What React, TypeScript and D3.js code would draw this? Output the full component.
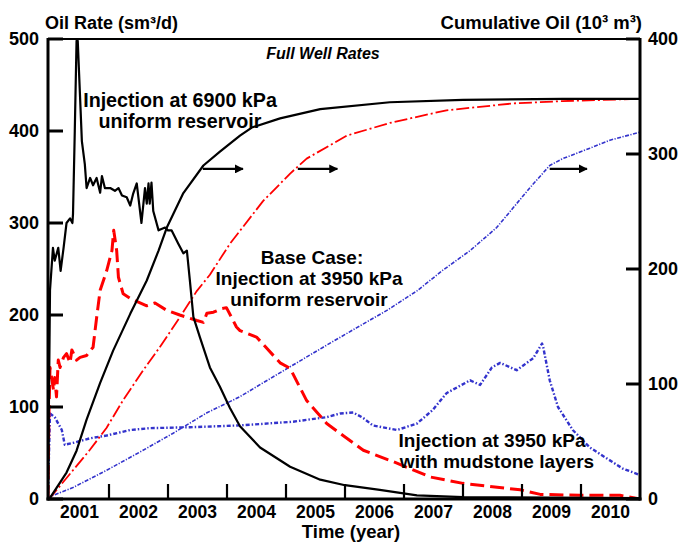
import React from "react";
import * as d3 from "d3";

// ---- data (time in decimal years) ----
const rate6900: [number, number][] = [
  [2000.966, 0], [2001.0, 227], [2001.05, 273], [2001.08, 259], [2001.14, 273], [2001.18, 248],
  [2001.23, 273], [2001.28, 300], [2001.34, 305], [2001.38, 300], [2001.39, 310], [2001.42, 400],
  [2001.45, 498], [2001.47, 498], [2001.51, 436], [2001.54, 389], [2001.59, 364], [2001.62, 338],
  [2001.68, 349], [2001.73, 341], [2001.79, 349], [2001.85, 333], [2001.88, 351], [2001.93, 338],
  [2002.02, 338], [2002.1, 335], [2002.16, 338], [2002.22, 330], [2002.3, 328], [2002.36, 319],
  [2002.41, 332], [2002.47, 343], [2002.55, 300], [2002.61, 338], [2002.64, 321], [2002.67, 343],
  [2002.69, 321], [2002.72, 344], [2002.75, 313], [2002.84, 292], [2002.95, 295], [2003.0, 292],
  [2003.06, 292], [2003.17, 278], [2003.26, 267], [2003.32, 270], [2003.37, 238], [2003.43, 198],
  [2003.54, 176], [2003.71, 143], [2003.88, 122], [2004.05, 99], [2004.22, 79], [2004.56, 56],
  [2005.07, 35], [2005.58, 21], [2006.0, 15], [2006.59, 10], [2007.22, 4], [2008.0, 2], [2011.0, 1],
];
const cum6900: [number, number][] = [
  [2000.966, 0], [2001.0, 1], [2001.28, 23], [2001.45, 42], [2001.62, 69], [2001.85, 101],
  [2002.07, 129], [2002.36, 161], [2002.64, 190], [2002.84, 216], [2002.98, 236], [2003.26, 266],
  [2003.6, 290], [2003.88, 302], [2004.22, 316], [2004.42, 323], [2004.9, 331], [2005.58, 339],
  [2006.76, 345], [2008.0, 347], [2009.69, 348], [2011.0, 348],
];
const rateBase: [number, number][] = [
  [2000.966, 0], [2000.98, 86], [2001.0, 143], [2001.06, 118], [2001.08, 132], [2001.11, 111],
  [2001.14, 151], [2001.17, 143], [2001.23, 154], [2001.28, 158], [2001.34, 148], [2001.37, 162],
  [2001.45, 151], [2001.51, 154], [2001.62, 156], [2001.73, 165], [2001.79, 197], [2001.85, 227],
  [2001.96, 248], [2002.05, 270], [2002.08, 292], [2002.13, 270], [2002.16, 241], [2002.24, 223],
  [2002.36, 218], [2002.64, 210], [2002.78, 213], [2002.98, 205], [2003.2, 200], [2003.49, 194],
  [2003.6, 192], [2003.66, 202], [2003.77, 203], [2003.91, 207], [2003.99, 208], [2004.08, 197],
  [2004.16, 187], [2004.22, 183], [2004.5, 176], [2004.9, 148], [2005.07, 142], [2005.35, 107],
  [2005.69, 82], [2006.31, 53], [2006.88, 39], [2007.44, 24], [2008.0, 17], [2008.97, 10],
  [2009.31, 5], [2009.98, 4], [2010.66, 4], [2011.0, 0],
];
const cumBase: [number, number][] = [
  [2000.966, 0], [2001.0, 1], [2001.39, 25], [2001.68, 43], [2001.96, 62], [2002.24, 86],
  [2002.58, 112], [2002.86, 132], [2003.2, 158], [2003.49, 181], [2003.71, 195], [2004.05, 222],
  [2004.61, 259], [2005.07, 283], [2005.35, 296], [2006.03, 316], [2006.76, 327], [2007.72, 338],
  [2008.85, 344], [2009.69, 346], [2011.0, 348],
];
const rateMud: [number, number][] = [
  [2000.966, 0], [2000.98, 42], [2001.0, 93], [2001.08, 89], [2001.14, 82], [2001.2, 75],
  [2001.25, 59], [2001.39, 61], [2001.68, 66], [2001.96, 69], [2002.36, 75], [2002.69, 77],
  [2003.37, 78], [2004.22, 80], [2005.12, 84], [2005.69, 89], [2005.92, 93], [2006.14, 94],
  [2006.31, 88], [2006.47, 80], [2006.88, 75], [2007.22, 82], [2007.49, 97], [2007.72, 115],
  [2007.89, 121], [2008.12, 129], [2008.29, 124], [2008.49, 143], [2008.63, 148], [2008.91, 140],
  [2009.19, 153], [2009.34, 169], [2009.36, 165], [2009.47, 129], [2009.61, 100], [2009.86, 75],
  [2010.15, 56], [2010.44, 44], [2010.71, 33], [2011.0, 26],
];
const cumMud: [number, number][] = [
  [2000.966, 0], [2001.0, 2], [2001.39, 10], [2001.96, 25], [2002.53, 41], [2003.08, 57],
  [2003.66, 75], [2004.22, 89], [2004.61, 101], [2005.07, 115], [2005.63, 132], [2006.2, 149],
  [2006.71, 164], [2007.22, 181], [2007.66, 199], [2008.12, 216], [2008.57, 236], [2009.14, 271],
  [2009.47, 290], [2009.69, 296], [2010.15, 305], [2010.49, 312], [2011.0, 319],
];

const yearLabels = ["2001", "2002", "2003", "2004", "2005", "2006", "2007", "2008", "2009", "2010"];
const yearTicks = [2002, 2003, 2004, 2005, 2006, 2007, 2008, 2009, 2010];
const leftTicks = [0, 100, 200, 300, 400, 500];
const rightTicks = [0, 100, 200, 300, 400];
// arrows: [startYear, endYear, cumulative value]
const arrows: [number, number, number][] = [
  [2003.59, 2004.27, 287],
  [2005.2, 2005.87, 287],
  [2009.47, 2010.1, 287],
];

const FONT = "'Liberation Sans', Arial, Helvetica, sans-serif";

export default function App() {
  const W = 680, H = 543;
  const left = 48, right = 640, top = 39, bottom = 499;
  const x = d3.scaleLinear().domain([2000.966, 2011]).range([left, right]);
  const yL = d3.scaleLinear().domain([0, 500]).range([bottom, top]);
  const yR = d3.scaleLinear().domain([0, 400]).range([bottom, top]);
  const lineL = d3.line<[number, number]>().x((d) => x(d[0])).y((d) => yL(d[1]));
  const lineR = d3.line<[number, number]>().x((d) => x(d[0])).y((d) => yR(d[1]));
  const red = "#ff0000";
  const blue = "#3333cc";

  return (
    <svg width={W} height={H} style={{ position: "absolute", left: 0, top: 0, background: "#fff" }}
      fontFamily={FONT}>
      <defs>
        <clipPath id="plot">
          <rect x={left} y={top - 2} width={right - left} height={bottom - top + 2} />
        </clipPath>
        <marker id="arr" viewBox="0 0 10 10" refX="9" refY="5" markerWidth="9" markerHeight="9"
          markerUnits="userSpaceOnUse" orient="auto">
          <path d="M0,0 L10,5 L0,10 z" fill="#000" />
        </marker>
      </defs>
      <rect width={W} height={H} fill="#fff" />

      {/* series */}
      <g clipPath="url(#plot)" fill="none" strokeLinejoin="round">
        <path d={lineR(cumMud) || ""} stroke={blue} strokeWidth={1.6} strokeDasharray="4,1.5,1.2,1.5" />
        <path d={lineL(rateMud) || ""} stroke={blue} strokeWidth={2.4} strokeDasharray="4,2,1.5,2" />
        <path d={lineR(cumBase) || ""} stroke={red} strokeWidth={1.8} strokeDasharray="13,3,2,3" />
        <path d={lineL(rateBase) || ""} stroke={red} strokeWidth={3} strokeDasharray="14,6" />
        <path d={lineR(cum6900) || ""} stroke="#000" strokeWidth={2.2} />
        <path d={lineL(rate6900) || ""} stroke="#000" strokeWidth={2.2} />
      </g>

      {/* frame */}
      <line x1={left} x2={right} y1={top} y2={top} stroke="#000" strokeWidth={2} />
      <line x1={left} x2={left} y1={top - 1} y2={bottom + 1.5} stroke="#000" strokeWidth={3} />
      <line x1={right} x2={right} y1={top - 1} y2={bottom + 1.5} stroke="#000" strokeWidth={3} />
      <line x1={left - 1.5} x2={right + 1.5} y1={bottom} y2={bottom} stroke="#000" strokeWidth={3} />

      {/* left ticks */}
      {leftTicks.map((t) => (
        <g key={"l" + t}>
          <line x1={left} x2={left + 15} y1={yL(t)} y2={yL(t)} stroke="#000" strokeWidth={3} />
          <text x={39} y={yL(t)} dy="0.36em" textAnchor="end" fontSize={18} fontWeight="bold">{t}</text>
        </g>
      ))}
      {/* right ticks */}
      {rightTicks.map((t) => (
        <g key={"r" + t}>
          <line x1={right - 14} x2={right} y1={yR(t)} y2={yR(t)} stroke="#000" strokeWidth={3} />
          <text x={648} y={yR(t)} dy="0.36em" textAnchor="start" fontSize={18} fontWeight="bold">{t}</text>
        </g>
      ))}
      {/* x ticks */}
      {yearTicks.map((t) => (
        <line key={"x" + t} x1={x(t)} x2={x(t)} y1={bottom} y2={bottom - 15} stroke="#000" strokeWidth={2.2} />
      ))}
      {yearLabels.map((s) => (
        <text key={s} x={x(+s + 0.5)} y={518} textAnchor="middle" fontSize={17.5} fontWeight="bold">{s}</text>
      ))}

      {/* axis titles */}
      <text x={45} y={29} fontSize={18} fontWeight="bold">Oil Rate (sm³/d)</text>
      <text x={642} y={29} textAnchor="end" fontSize={18.5} fontWeight="bold">Cumulative Oil (10³ m³)</text>
      <text x={351} y={538} textAnchor="middle" fontSize={18.5} fontWeight="bold">Time (year)</text>
      <text x={323} y={59} textAnchor="middle" fontSize={16} fontWeight="bold" fontStyle="italic">Full Well Rates</text>

      {/* annotations */}
      <g fontSize={19} fontWeight="bold" textAnchor="middle">
        <text x={180} y={107} fontSize={19.7}>Injection at 6900 kPa</text>
        <text x={180} y={128} fontSize={19.7}>uniform reservoir</text>
        <text x={312} y={264}>Base Case:</text>
        <text x={309} y={285}>Injection at 3950 kPa</text>
        <text x={309} y={306}>uniform reservoir</text>
        <text x={492} y={447}>Injection at 3950 kPa</text>
        <text x={497} y={468}>with mudstone layers</text>
      </g>

      {/* arrows */}
      {arrows.map((a, i) => (
        <line key={"a" + i} x1={x(a[0])} x2={x(a[1])} y1={yR(a[2])} y2={yR(a[2])}
          stroke="#000" strokeWidth={2.2} markerEnd="url(#arr)" />
      ))}
    </svg>
  );
}
